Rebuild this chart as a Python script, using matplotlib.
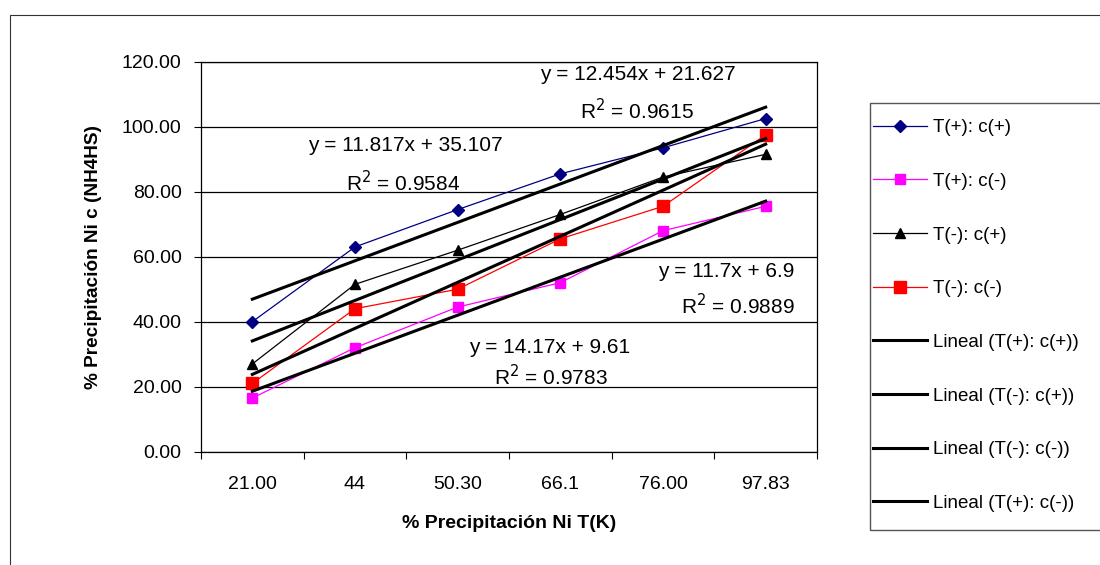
import numpy as np
import matplotlib.pyplot as plt
from matplotlib.patches import Rectangle

plt.rcParams['font.family'] = ['Liberation Sans', 'DejaVu Sans']

# categories on the x axis (% precipitacion Ni T(K))
categories = ['21.00', '44', '50.30', '66.1', '76.00', '97.83']

# % precipitacion Ni c (NH4HS) for each run
t_pos_c_pos = [40.0, 63.0, 74.5, 85.5, 93.5, 102.5]
t_pos_c_neg = [16.5, 32.0, 44.5, 52.0, 68.0, 75.5]
t_neg_c_pos = [27.0, 51.5, 62.0, 73.0, 84.5, 91.5]
t_neg_c_neg = [21.0, 44.0, 50.0, 65.5, 75.5, 97.5]

# linear trend lines: slope, intercept, R^2
fit_pos_pos = (11.817, 35.107, 0.9584)
fit_neg_pos = (12.454, 21.627, 0.9615)
fit_neg_neg = (14.17, 9.61, 0.9783)
fit_pos_neg = (11.7, 6.9, 0.9889)

x = np.arange(1, len(categories) + 1)

fig = plt.figure(figsize=(11, 5.65), dpi=100)
ax = fig.add_axes([201/1100, 1 - 451.7/565, 616/1100, 390/565])

# outer chart border (only top and left edges fall inside the image)
fig.patches.append(Rectangle((10/1100, -0.1), 1.2, 1 - 15/565 + 0.1,
                             transform=fig.transFigure, fill=False,
                             edgecolor='#333333', linewidth=0.8))
# legend box, drawn by hand so the padding can be set freely
fig.patches.append(Rectangle((870/1100, 1 - 530/565), 0.3, 427/565,
                             transform=fig.transFigure, fill=False,
                             edgecolor='#555555', linewidth=1.0))

ax.plot(x, t_pos_c_pos, color='#000080', marker='D', markersize=6, lw=0.9, label='T(+): c(+)')
ax.plot(x, t_pos_c_neg, color='#FF00FF', marker='s', markersize=7, lw=0.9, label='T(+): c(-)')
ax.plot(x, t_neg_c_pos, color='black', marker='^', markersize=7.5, lw=0.9, label='T(-): c(+)')
ax.plot(x, t_neg_c_neg, color='#FF0000', marker='s', markersize=8.5, lw=0.9, label='T(-): c(-)')

xs = np.array([1.0, 6.0])
trend = [
    (fit_pos_pos, 'Lineal (T(+): c(+))'),
    (fit_neg_pos, 'Lineal (T(-): c(+))'),
    (fit_neg_neg, 'Lineal (T(-): c(-))'),
    (fit_pos_neg, 'Lineal (T(+): c(-))'),
]
for (m, b, r2), lab in trend:
    ax.plot(xs, m * xs + b, color='black', lw=2.2, label=lab, zorder=4)

# equation labels in data coordinates: (eq x, eq y, R2 x, R2 y)
eq_pos = {
    fit_neg_pos: (4.75, 116.2, 4.75, 105.1),
    fit_pos_pos: (2.49, 94.1, 2.47, 82.7),
    fit_pos_neg: (5.62, 55.3, 5.73, 45.1),
    fit_neg_neg: (3.90, 32.2, 3.91, 23.0),
}
for (m, b, r2), _ in trend:
    ex, ey, rx, ry = eq_pos[(m, b, r2)]
    ax.text(ex, ey, f'y = {m:g}x + {b:g}', ha='center', va='center', fontsize=15)
    ax.text(rx, ry, f'R$^2$ = {r2:.4f}', ha='center', va='center', fontsize=15)

ax.set_xlim(0.5, 6.5)
ax.set_ylim(0, 120)
ax.set_yticks(np.arange(0, 121, 20))
ax.set_yticklabels([f'{v:.2f}' for v in np.arange(0, 121, 20)])
ax.yaxis.grid(True, color='black', lw=0.9)
ax.set_axisbelow(True)
ax.set_xticks(x)
ax.set_xticklabels(categories)
ax.set_xticks(np.arange(0.5, 6.6, 1), minor=True)
ax.tick_params(axis='x', which='major', length=0, pad=17.5, labelsize=14)
ax.tick_params(axis='x', which='minor', length=5, direction='out', width=0.8)
ax.tick_params(axis='y', length=5, width=0.8, labelsize=14, pad=9)
for s in ax.spines.values():
    s.set_linewidth(0.9)

ax.set_xlabel('% Precipitación Ni T(K)', fontsize=14, fontweight='bold', labelpad=16)
ax.set_ylabel('% Precipitación Ni c (NH4HS)', fontsize=13.7, fontweight='bold', labelpad=14)

fig.legend(loc='upper left', bbox_to_anchor=(873/1100, 1 - 119/565), fontsize=13.5,
           frameon=False, labelspacing=1.95, handlelength=2.9, handletextpad=0.3,
           borderpad=0, borderaxespad=0)

fig.savefig('out.png', dpi=100)
